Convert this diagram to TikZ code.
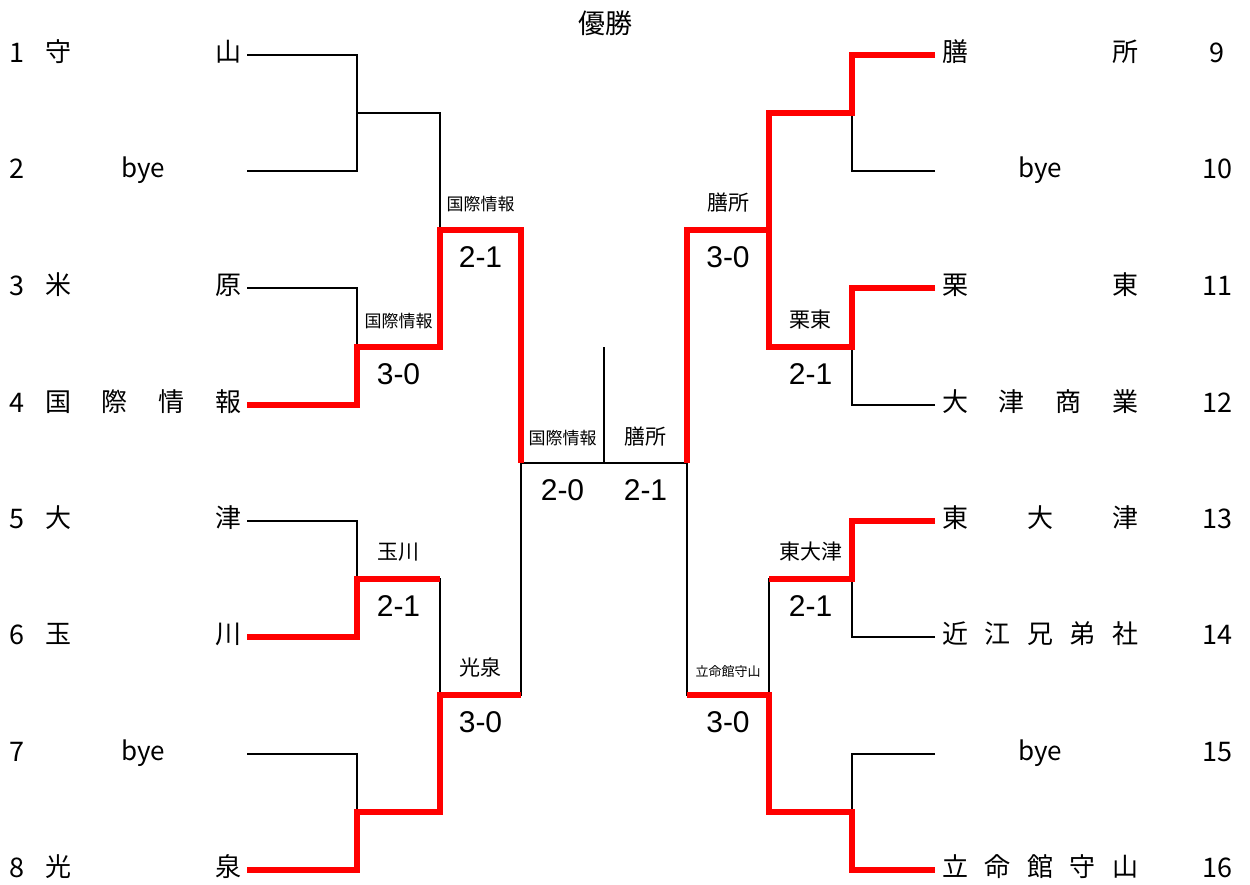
\documentclass[tikz,border=0pt]{standalone}
\usepackage{fontspec}
\setmainfont{Noto Sans CJK JP}
\newfontfamily\scorefont{Liberation Sans}
\newcommand\hf{\hfill}
\begin{document}
\begin{tikzpicture}[x=1pt,y=-1pt,
  thinline/.style={draw=black,line width=1.1pt},
  winline/.style={draw=red,line width=5.2pt,line join=miter,line cap=butt},
  team/.style={font=\fontsize{26}{26}\selectfont,inner sep=0pt,anchor=base west},
  num/.style={font=\fontsize{27}{27}\selectfont,inner sep=0pt,anchor=base},
  score/.style={font=\scorefont\fontsize{30}{30}\selectfont,inner sep=0pt,anchor=base},
  winM/.style={font=\fontsize{21}{21}\selectfont,inner sep=0pt,anchor=base},
  winS/.style={font=\fontsize{17}{17}\selectfont,inner sep=0pt,anchor=base},
  winXS/.style={font=\fontsize{13}{13}\selectfont,inner sep=0pt,anchor=base}]
\useasboundingbox (0,0) rectangle (1250,884);
% ---- coordinates
\coordinate (a1) at (247,55);  \coordinate (a2) at (247,171);
\coordinate (a3) at (247,288); \coordinate (a4) at (247,405);
\coordinate (a5) at (247,521); \coordinate (a6) at (247,637);
\coordinate (a7) at (247,754); \coordinate (a8) at (247,870);
\coordinate (b9) at (935,55);   \coordinate (b10) at (935,171);
\coordinate (b11) at (935,288); \coordinate (b12) at (935,405);
\coordinate (b13) at (935,521); \coordinate (b14) at (935,637);
\coordinate (b15) at (935,754); \coordinate (b16) at (935,870);
\coordinate (p1) at (357,113); \coordinate (p2) at (357,347);
\coordinate (p3) at (357,579); \coordinate (p4) at (357,812);
\coordinate (q1) at (852,113); \coordinate (q2) at (852,347);
\coordinate (q3) at (852,579); \coordinate (q4) at (852,812);
\coordinate (s1) at (440,230); \coordinate (s2) at (440,695);
\coordinate (u1) at (769,230); \coordinate (u2) at (769,695);
\coordinate (f1) at (521,463); \coordinate (f2) at (687,463);
\coordinate (ct) at (604,347); \coordinate (cb) at (604,463);
% ---- black bracket
\draw[thinline] (a1) -| (p1); \draw[thinline] (a2) -| (p1);
\draw[thinline] (a3) -| (p2); \draw[thinline] (a4) -| (p2);
\draw[thinline] (a5) -| (p3); \draw[thinline] (a6) -| (p3);
\draw[thinline] (a7) -| (p4); \draw[thinline] (a8) -| (p4);
\draw[thinline] (p1) -| (s1); \draw[thinline] (p2) -| (s1);
\draw[thinline] (p3) -| (s2); \draw[thinline] (p4) -| (s2);
\draw[thinline] (s1) -| (f1); \draw[thinline] (s2) -| (f1);
\draw[thinline] (b9) -| (q1);  \draw[thinline] (b10) -| (q1);
\draw[thinline] (b11) -| (q2); \draw[thinline] (b12) -| (q2);
\draw[thinline] (b13) -| (q3); \draw[thinline] (b14) -| (q3);
\draw[thinline] (b15) -| (q4); \draw[thinline] (b16) -| (q4);
\draw[thinline] (q1) -| (u1); \draw[thinline] (q2) -| (u1);
\draw[thinline] (q3) -| (u2); \draw[thinline] (q4) -| (u2);
\draw[thinline] (u1) -| (f2); \draw[thinline] (u2) -| (f2);
\draw[thinline] (f1) -- (f2);
\draw[thinline] (ct) -- (cb);
% ---- red winning paths
\draw[winline] (a4) -| (p2) -| (s1) -| (f1);
\draw[winline] (a6) -| (p3) -- (p3 -| s2);
\draw[winline] (a8) -| (p4) -| (s2) -- (s2 -| f1);
\draw[winline] (b9) -| (q1) -| (u1) -| (f2);
\draw[winline] (b11) -| (q2) -| (u1);
\draw[winline] (b13) -| (q3) -- (q3 -| u2);
\draw[winline] (b16) -| (q4) -| (u2) -- (u2 -| f2);
% ---- title
\node[font=\fontsize{27}{27}\selectfont,inner sep=0pt,anchor=base] (title) at (605,33) {優勝};
% ---- left entries
\node[num] (n1) at (17,62) {1};
\node[num] (n2) at (17,178) {2};
\node[num] (n3) at (17,295) {3};
\node[num] (n4) at (17,412) {4};
\node[num] (n5) at (17,528) {5};
\node[num] (n6) at (17,644) {6};
\node[num] (n7) at (17,761) {7};
\node[num] (n8) at (17,877) {8};
\node[team] (t1) at (45,61)  {\makebox[196pt][s]{守\hf 山}};
\node[team] (t2) at (45,177) {\makebox[196pt]{bye}};
\node[team] (t3) at (45,294) {\makebox[196pt][s]{米\hf 原}};
\node[team] (t4) at (45,411) {\makebox[196pt][s]{国\hf 際\hf 情\hf 報}};
\node[team] (t5) at (45,527) {\makebox[196pt][s]{大\hf 津}};
\node[team] (t6) at (45,643) {\makebox[196pt][s]{玉\hf 川}};
\node[team] (t7) at (45,760) {\makebox[196pt]{bye}};
\node[team] (t8) at (45,876) {\makebox[196pt][s]{光\hf 泉}};
% ---- right entries
\node[team] (t9)  at (942,61)  {\makebox[196pt][s]{膳\hf 所}};
\node[team] (t10) at (942,177) {\makebox[196pt]{bye}};
\node[team] (t11) at (942,294) {\makebox[196pt][s]{栗\hf 東}};
\node[team] (t12) at (942,411) {\makebox[196pt][s]{大\hf 津\hf 商\hf 業}};
\node[team] (t13) at (942,527) {\makebox[196pt][s]{東\hf 大\hf 津}};
\node[team] (t14) at (942,643) {\makebox[196pt][s]{近\hf 江\hf 兄\hf 弟\hf 社}};
\node[team] (t15) at (942,760) {\makebox[196pt]{bye}};
\node[team] (t16) at (942,876) {\makebox[196pt][s]{立\hf 命\hf 館\hf 守\hf 山}};
\node[num] (n9)  at (1217,62) {9};
\node[num] (n10) at (1217,178) {10};
\node[num] (n11) at (1217,295) {11};
\node[num] (n12) at (1217,412) {12};
\node[num] (n13) at (1217,528) {13};
\node[num] (n14) at (1217,644) {14};
\node[num] (n15) at (1217,761) {15};
\node[num] (n16) at (1217,877) {16};
% ---- winners and scores, left
\node[winS] (w1) at (398.5,327) {国際情報};
\node[score] (sc1) at (398.5,384) {3-0};
\node[winM] (w3) at (398.5,559) {玉川};
\node[score] (sc3) at (398.5,616) {2-1};
\node[winS] (w5) at (480.5,210) {国際情報};
\node[score] (sc5) at (480.5,267) {2-1};
\node[winM] (w6) at (480.5,675) {光泉};
\node[score] (sc6) at (480.5,732) {3-0};
% ---- final
\node[winS] (wf1) at (562.5,444) {国際情報};
\node[winM] (wf2) at (645.5,444) {膳所};
\node[score] (sf1) at (562.5,500) {2-0};
\node[score] (sf2) at (645.5,500) {2-1};
% ---- winners and scores, right
\node[winM] (w7) at (728,210) {膳所};
\node[score] (sc7) at (728,267) {3-0};
\node[winXS] (w8) at (728,676) {立命館守山};
\node[score] (sc8) at (728,732) {3-0};
\node[winM] (w9) at (810.5,327) {栗東};
\node[score] (sc9) at (810.5,384) {2-1};
\node[winM] (w11) at (810.5,559) {東大津};
\node[score] (sc11) at (810.5,616) {2-1};
\end{tikzpicture}
\end{document}
